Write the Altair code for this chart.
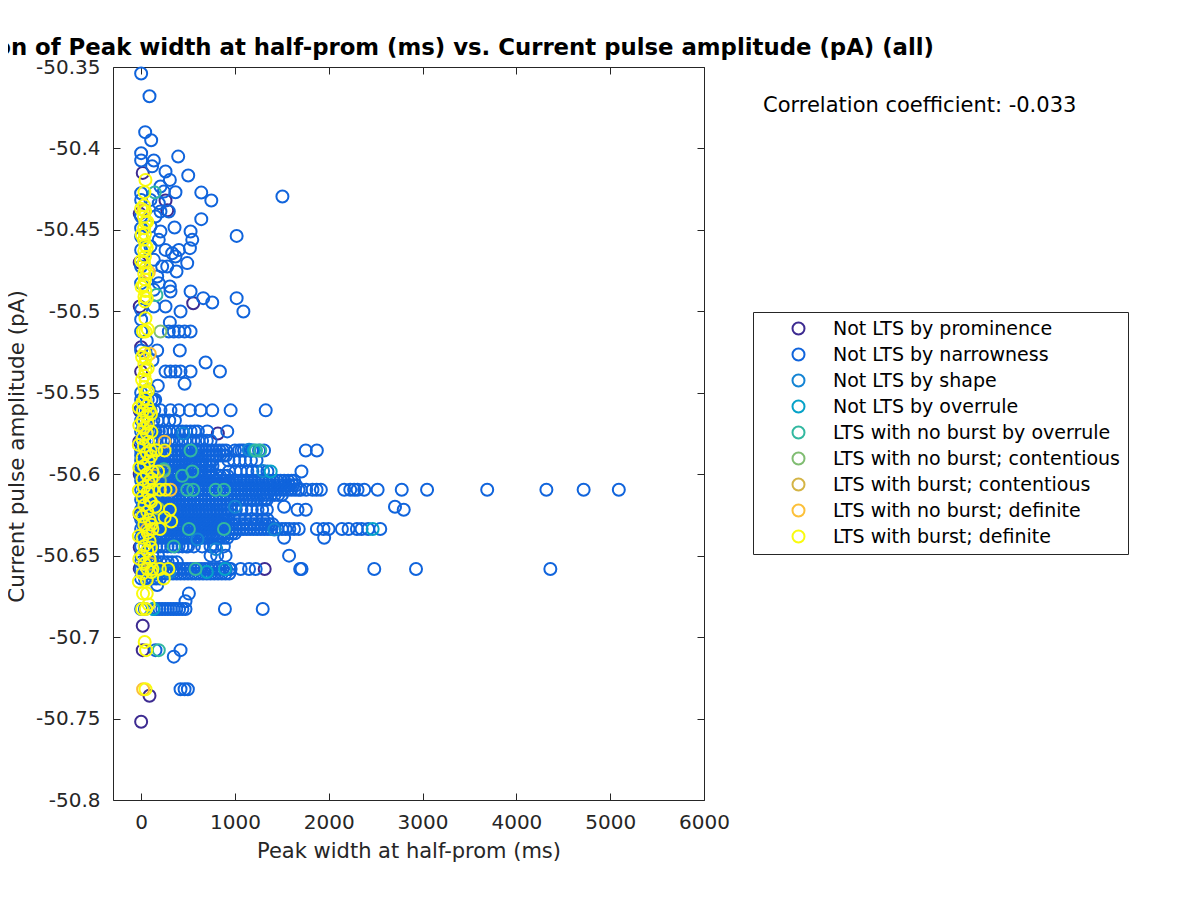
import altair as alt
import pandas as pd

# ---------------- categories / colours ----------------
CATS = [
    "Not LTS by prominence",
    "Not LTS by narrowness",
    "Not LTS by shape",
    "Not LTS by overrule",
    "LTS with no burst by overrule",
    "LTS with no burst; contentious",
    "LTS with burst; contentious",
    "LTS with no burst; definite",
    "LTS with burst; definite",
]
COLORS = ["#3d2b91", "#1064dc", "#1484d4", "#06a2c8", "#32b8a0",
          "#80bd72", "#d4b445", "#fcc039", "#f9fb0e"]

X_TICKS = [0, 1000, 2000, 3000, 4000, 5000, 6000]
Y_TICKS = [-50.8, -50.75, -50.7, -50.65, -50.6, -50.55, -50.5, -50.45, -50.4, -50.35]
CORR_TEXT = ["Correlation coefficient: -0.033"]

# ---------------- Not LTS by prominence ----------------
prom_x = [17, 260, 278, -15, -15, 555, -15, 0, 0, -15, 818, -20, -15, -15, -15, -15,
          1317, 17, 17, 89, 0]
prom_y = [-50.415, -50.432, -50.438, -50.440, -50.470, -50.495, -50.497, -50.522, -50.537,
          -50.561, -50.575, -50.580, -50.600, -50.625, -50.645, -50.658, -50.6582,
          -50.693, -50.708, -50.736, -50.752]

# ---------------- Not LTS by narrowness: scattered points ----------------
narrow_x = [0, 89, 43, 107, 0, 0, 135, 395, 117, 260, 502, 306, 366, 641, 748, 1506,
            206, 242, 0, 0, 99, 188, 295, 206, 153, 0, 99, 0, 356, 527, 206, 545, 188,
            641, 1018, 520, 402, 331, 260, 491, 366, 278, 377, 224, 171, 188, 306, 313,
            527, 662, 758, 1018, 1090, 420, 260, 0, 306, 0, 295, 348, 402, 463, 527,
            412, 171, 0, 687, 260, 313, 366, 420, 527, 840, 463, 178, 0, 0, 0, 135, 135,
            0, 135, 99, 0, 60, 120, 0, 80, 140, 509, 473, 171, 348, 153, 420, 420, 463, 498]
narrow_y = [-50.354, -50.368, -50.390, -50.395, -50.4029, -50.4074, -50.4074, -50.4050,
            -50.411, -50.4142, -50.4166, -50.4193, -50.4269, -50.4271, -50.4320, -50.4295,
            -50.4234, -50.4265, -50.4275, -50.4316, -50.4316, -50.4336, -50.4387, -50.4387,
            -50.4418, -50.4418, -50.4479, -50.4490, -50.4485, -50.4510, -50.4510, -50.4561,
            -50.4561, -50.4434, -50.4537, -50.4612, -50.4623, -50.4643, -50.4623, -50.4704,
            -50.4663, -50.4725, -50.4755, -50.4725, -50.4786, -50.4827, -50.4847, -50.4878,
            -50.4878, -50.4919, -50.4946, -50.4919, -50.5001, -50.5001, -50.4970, -50.4991,
            -50.5068, -50.5124, -50.5124, -50.5124, -50.5124, -50.5124, -50.5124,
            -50.5240, -50.5240, -50.5240, -50.5314, -50.5369, -50.5369, -50.5369, -50.5369,
            -50.5369, -50.5369, -50.5445, -50.5457, -50.4827, -50.4623, -50.4725, -50.4868,
            -50.4970, -50.4541, -50.4684, -50.4602, -50.505, -50.518, -50.530, -50.550,
            -50.548, -50.555, -50.6733, -50.678, -50.668, -50.712, -50.708, -50.708,
            -50.732, -50.732, -50.732]

# ---------------- Not LTS by narrowness: dense rows (amplitude, widths) ----------------
narrow_rows = [
    (-50.5543, [0, 35, 70, 110, 150]),
    (-50.5608, [0, 30, 60, 100, 140, 206, 313, 402, 520, 634, 758, 954, 1328]),
    (-50.5670, [0, 40, 80, 130, 175, 230, 300, 360]),
    (-50.5737, [0, 30, 60, 90, 120, 150, 188, 220, 260, 300, 348, 390, 438, 480, 527, 570,
                605, 705, 918]),
    (-50.5795, [0, 35, 70, 105, 150, 200, 240, 290, 330, 380, 430, 470, 520, 560, 610, 650,
                700, 740]),
    (-50.5854, [0, 30, 65, 100, 140, 175, 210, 250, 285, 320, 360, 395, 430, 470, 505, 540,
                580, 615, 650, 690, 725, 760, 800, 835, 870, 905, 1000, 1043, 1070, 1096,
                1150, 1180, 1257, 1310, 1755, 1873]),
    (-50.5885, [0, 41, 82, 118, 163, 200, 244, 281, 322, 365, 402, 441, 486, 523, 560, 604,
                642, 683, 720, 765, 801, 842, 880, 905]),
    (-50.5915, [0, 35, 70, 105, 140, 180, 215, 250, 290, 325, 360, 400, 435, 470, 510, 545,
                580, 620, 655, 690, 730, 760, 930, 990, 1050, 1110, 1170, 1230]),
    (-50.5950, [0, 44, 85, 121, 166, 205, 247, 288, 325, 369, 408, 447, 489, 530, 571, 611,
                650, 694, 731, 760]),
    (-50.5983, [0, 30, 65, 100, 135, 170, 210, 245, 280, 320, 355, 390, 430, 465, 500, 540,
                575, 610, 650, 685, 720, 740, 936, 1007, 1061, 1132, 1186, 1239, 1346, 1709]),
    (-50.6010, [0, 39, 80, 121, 160, 203, 241, 282, 320, 362, 401, 443, 480, 522, 561, 603,
                640, 681, 722, 760, 803, 841, 880, 921]),
    (-50.6040, [0, 38, 77, 118, 155, 196, 233, 274, 312, 351, 392, 428, 469, 507, 546, 588,
                623, 664, 702, 741, 783, 818, 859, 897, 938, 977, 1015, 1056, 1094, 1133,
                1174, 1210, 1251, 1289, 1330, 1368, 1407, 1449, 1486, 1525, 1566, 1603, 1630]),
    (-50.6068, [20, 58, 97, 136, 175, 214, 253, 292, 331, 370, 409, 448, 487, 526, 565, 604,
                643, 682, 721, 760, 799, 838, 877, 916, 955, 994, 1033, 1072, 1111, 1150,
                1189, 1228, 1267, 1306, 1345, 1384, 1423, 1462, 1501, 1540, 1579, 1618, 1650]),
    (-50.6095, [0, 36, 74, 113, 150, 188, 227, 265, 304, 341, 380, 418, 455, 494, 532, 571,
                608, 646, 685, 723, 760, 799, 837, 876, 913, 951, 990, 1028, 1066, 1105,
                1143, 1180, 1219, 1257, 1296, 1333, 1371, 1410, 1448, 1487, 1524, 1562,
                1601, 1640, 1677, 1702, 1760, 1827, 1870, 1916, 2165, 2229, 2270, 2307,
                2378, 2521, 2778, 3048, 3689, 4320, 4717, 5092]),
    (-50.6127, [18, 57, 96, 135, 174, 213, 252, 291, 330, 369, 408, 447, 486, 525, 564, 603,
                642, 681, 720, 759, 798, 837, 876, 915, 954, 993, 1032, 1071, 1110, 1149,
                1188, 1227, 1266, 1305, 1344, 1383, 1422, 1461, 1500]),
    (-50.6157, [0, 40, 79, 121, 160, 198, 240, 279, 318, 360, 399, 441, 480, 519, 561, 600,
                638, 680, 719, 760, 801, 840, 879, 921, 960, 1000, 1041, 1080, 1120, 1161,
                1199, 1240, 1280, 1318, 1340]),
    (-50.6188, [20, 59, 98, 137, 176, 215, 254, 293, 332, 371, 410, 449, 488, 527, 566, 605,
                644, 683, 722, 761, 800, 839, 878, 917, 960]),
    (-50.6200, [1524, 2706]),
    (-50.6218, [0, 38, 77, 116, 154, 193, 232, 270, 309, 348, 386, 425, 464, 502, 541, 580,
                618, 657, 696, 734, 773, 812, 850, 889, 918, 960, 1010, 1070, 1120, 1180,
                1240, 1290, 1340, 1667, 1755, 2799]),
    (-50.6248, [18, 58, 97, 137, 176, 216, 255, 295, 334, 374, 413, 453, 492, 532, 571, 611,
                650, 690, 729, 769, 808, 848, 887, 927]),
    (-50.6277, [0, 39, 78, 118, 157, 196, 236, 275, 314, 353, 393, 432, 471, 511, 550, 589,
                628, 668, 707, 746, 786, 825, 864, 903, 930, 990, 1050, 1110, 1170, 1230,
                1300, 1346]),
    (-50.6307, [20, 60, 99, 139, 178, 218, 257, 297, 336, 376, 415, 455, 494, 534, 573, 613,
                652, 692, 731, 771, 810, 850, 889, 929, 968, 1008, 1047, 1087, 1126, 1166,
                1205, 1245, 1284, 1324, 1363, 1400]),
    (-50.6336, [0, 37, 75, 112, 150, 188, 225, 262, 300, 338, 375, 412, 450, 488, 525, 562,
                600, 638, 675, 712, 750, 788, 825, 862, 900, 938, 975, 1012, 1050, 1088,
                1125, 1162, 1200, 1238, 1275, 1312, 1350, 1388, 1425, 1452, 1500, 1540,
                1580, 1630, 1680, 1873, 1944, 1998, 2140, 2211, 2300, 2350, 2420, 2549]),
    (-50.6363, [20, 59, 99, 138, 178, 217, 257, 296, 336, 375, 415, 454, 494, 533, 573, 612,
                652, 691, 731, 770, 810, 849, 889, 928, 968, 1000]),
    (-50.6390, [0, 41, 79, 122, 158, 201, 239, 282, 318, 361, 399, 442, 478, 521, 559, 602,
                638, 681, 719, 762, 798, 841, 882, 920, 1524, 1951]),
    (-50.6443, [0, 40, 81, 119, 160, 202, 238, 281, 320, 362, 399, 441, 480, 500, 562, 650,
                740, 790, 882]),
    (-50.6500, [0, 60, 120, 180, 740, 810, 900, 1577]),
    (-50.6540, [0, 42, 79, 121, 158, 203, 240, 282, 330, 380]),
    (-50.6582, [0, 37, 75, 113, 150, 188, 226, 263, 301, 339, 376, 414, 452, 490, 527, 565,
                603, 640, 678, 716, 754, 791, 829, 867, 905, 940, 954, 1061, 1150, 1221,
                1695, 1710, 2485, 2930, 4362]),
    (-50.6610, [20, 60, 100, 140, 180, 220, 260, 300, 340, 380, 420, 460, 500, 540, 580, 620,
                660, 700, 740, 780, 820, 860, 900, 940]),
    (-50.6640, [0, 40, 80, 120, 160, 200]),
    (-50.6827, [0, 40, 135, 165, 195, 225, 255, 285, 315, 345, 375, 405, 440, 473, 893, 1296]),
]

# ---------------- Not LTS by shape ----------------
shape_x = [1000, 600, 300, 1150, 1300, 800, 450, 1420]
shape_y = [-50.620, -50.640, -50.660, -50.585, -50.598, -50.646, -50.575, -50.634]

# ---------------- Not LTS by overrule ----------------
overrule_x = [1203, 1381, 2468, 894, 130, 150, 700]
overrule_y = [-50.5854, -50.5983, -50.6336, -50.6582, -50.6827, -50.660, -50.660]

# ---------------- LTS with no burst by overrule ----------------
nbover_x = [145, 163, 527, 242, 438, 545, 491, 555, 794, 883, 509, 883, 348, 580, 1225,
            1270, 188]
nbover_y = [-50.427, -50.490, -50.5854, -50.597, -50.601, -50.5983, -50.6095, -50.6095,
            -50.6095, -50.6095, -50.6336, -50.6336, -50.6443, -50.6582, -50.5854,
            -50.5854, -50.708]

# ---------------- LTS with no burst; contentious ----------------
nbcont_x = [206, 242, 200, 150, 180]
nbcont_y = [-50.5124, -50.598, -50.604, -50.585, -50.621]

# ---------------- LTS with burst; contentious ----------------
bcont_x = [40, 140, 100]
bcont_y = [-50.571, -50.601, -50.655]

# ---------------- LTS with no burst; definite ----------------
nbdef_x = [28, 82, 92, 313, 250, 21, 60]
nbdef_y = [-50.438, -50.476, -50.526, -50.6095, -50.580, -50.732, -50.634]

# ---------------- LTS with burst; definite ----------------
bdef_x = [46, 35, 30, 42, 30, 45, 32, 40, 30, 45, 33, 40, 30, 46, 33, 40, 30, 45, 35, 40,
          46, 20, 46, 70, 35, 48, 35, 46, 35, 48, 35, 46, 40,
          15, 65, 20, 90, 60, 15, 70, 25, 60, 15, 75, 30, 100, 160, 250, 60, 15, 80, 30,
          120, 180, 60, 15, 80, 30, 120, 200, 260, 70, 15, 90, 35, 150, 306, 65, 15, 250,
          90, 320, 35, 120, 200, 70, 15, 90, 35, 65, 15, 90, 35, 120, 200, 290, 65, 15,
          242, 60, 20, 60, 10, 50, 80, 38, 53, 46,
          0, 65, 5, 60, 0, 65, 5, 60,
          10, 70, 10, 70,
          -25, 105, -20, 110, -25, 105, -20, 110, -25, 105, -20, 110, -25, 105, -20, 110, -25]
bdef_y = [-50.4193, -50.4269, -50.4350, -50.4385, -50.4420, -50.4455, -50.4490, -50.4525,
          -50.4560, -50.4595, -50.4630, -50.4665, -50.4700, -50.4735, -50.4770, -50.4805,
          -50.4840, -50.4875, -50.4910, -50.4940,
          -50.5042, -50.5124, -50.5124, -50.5110, -50.5257, -50.5290, -50.5325, -50.5360,
          -50.5395, -50.5430, -50.5465, -50.5500, -50.5535,
          -50.556, -50.558, -50.561, -50.561, -50.564, -50.567, -50.569, -50.572, -50.575,
          -50.578, -50.580, -50.583, -50.5854, -50.5854, -50.5854, -50.587, -50.590,
          -50.592, -50.595, -50.5983, -50.5983, -50.600, -50.603, -50.605, -50.608,
          -50.6095, -50.6095, -50.6095, -50.611, -50.614, -50.616, -50.619, -50.620,
          -50.6218, -50.623, -50.626, -50.6265, -50.628, -50.629, -50.631, -50.6336,
          -50.6336, -50.636, -50.639, -50.641, -50.644, -50.647, -50.650, -50.652, -50.655,
          -50.6582, -50.6582, -50.6582, -50.658, -50.661, -50.664, -50.665, -50.6733,
          -50.6733, -50.6827, -50.6827, -50.680, -50.703, -50.708, -50.732,
          -50.437, -50.445, -50.453, -50.461, -50.469, -50.477, -50.485, -50.492,
          -50.528, -50.535, -50.542, -50.549,
          -50.559, -50.563, -50.570, -50.574, -50.582, -50.589, -50.596, -50.603, -50.610,
          -50.617, -50.624, -50.631, -50.638, -50.645, -50.652, -50.660, -50.666]

# ---------------- build table (drawn in category order) ----------------
records = []


def add(cat, xs, ys):
    for xv, yv in zip(xs, ys):
        records.append({"x": xv, "y": yv, "cat": cat})


add(CATS[0], prom_x, prom_y)
add(CATS[1], narrow_x, narrow_y)
for amp, widths in narrow_rows:
    add(CATS[1], widths, [amp] * len(widths))
add(CATS[2], shape_x, shape_y)
add(CATS[3], overrule_x, overrule_y)
add(CATS[4], nbover_x, nbover_y)
add(CATS[5], nbcont_x, nbcont_y)
add(CATS[6], bcont_x, bcont_y)
add(CATS[7], nbdef_x, nbdef_y)
add(CATS[8], bdef_x, bdef_y)
df = pd.DataFrame(records)

FONT = "DejaVu Sans"
AX = "#262626"

x_scale = alt.Scale(domain=[-300, 6000], nice=False, zero=False)
y_scale = alt.Scale(domain=[-50.8, -50.35], nice=False, zero=False)

points = alt.Chart(df).mark_point(
    shape="circle", filled=False, size=144, strokeWidth=2, opacity=1
).encode(
    x=alt.X("x:Q", scale=x_scale,
            axis=alt.Axis(orient="bottom", values=X_TICKS, title="Peak width at half-prom (ms)",
                          labelExpr="'' + datum.value", labelPadding=12, titlePadding=8,
                          labelFlush=False)),
    y=alt.Y("y:Q", scale=y_scale,
            axis=alt.Axis(orient="left", values=Y_TICKS, title="Current pulse amplitude (pA)",
                          labelExpr="'' + datum.value", labelPadding=13, titlePadding=7,
                          labelFlush=False, titleY=379, titleFontSize=21.5)),
    color=alt.Color("cat:N", scale=alt.Scale(domain=CATS, range=COLORS), title=None,
                    legend=alt.Legend(orient="none", legendX=640, legendY=245, padding=7,
                                      strokeColor=AX, fillColor="white",
                                      labelFont=FONT, labelFontSize=19, labelColor="black",
                                      labelLimit=500, symbolType="circle", symbolSize=144,
                                      symbolStrokeWidth=2, symbolOffset=29, labelOffset=25,
                                      rowPadding=5)),
)

frame = alt.Chart(df).mark_point(opacity=0).encode(
    x=alt.X("x:Q", scale=x_scale,
            axis=alt.Axis(orient="top", values=X_TICKS, labels=False, title="")),
    y=alt.Y("y:Q", scale=y_scale,
            axis=alt.Axis(orient="right", values=Y_TICKS, labels=False, title="")),
)

corr = alt.Chart(pd.DataFrame({"t": CORR_TEXT})).mark_text(
    align="left", baseline="alphabetic", font=FONT, fontSize=21, color="black"
).encode(x=alt.value(650), y=alt.value(45), text="t:N")

chart = alt.layer(points, frame, corr).resolve_axis(
    x="independent", y="independent"
).properties(
    width=591, height=733,
    title=alt.TitleParams(
        text="Correlation of Peak width at half-prom (ms) vs. Current pulse amplitude (pA) (all)",
        font=FONT, fontSize=22.8, fontWeight="bold", color="black", anchor="middle", offset=-3),
    padding={"left": 105, "top": 59, "right": 480, "bottom": 80},
    autosize=alt.AutoSizeParams(type="none"),
).configure_view(
    stroke=AX, strokeWidth=1
).configure_axis(
    labelFont=FONT, titleFont=FONT, labelFontSize=20, titleFontSize=21,
    labelColor=AX, titleColor=AX, titleFontWeight="normal",
    tickColor=AX, tickSize=7, tickWidth=1, offset=-7, domain=False, grid=False
)

chart.save("out.html", embed_options={"renderer": "svg", "actions": False})
